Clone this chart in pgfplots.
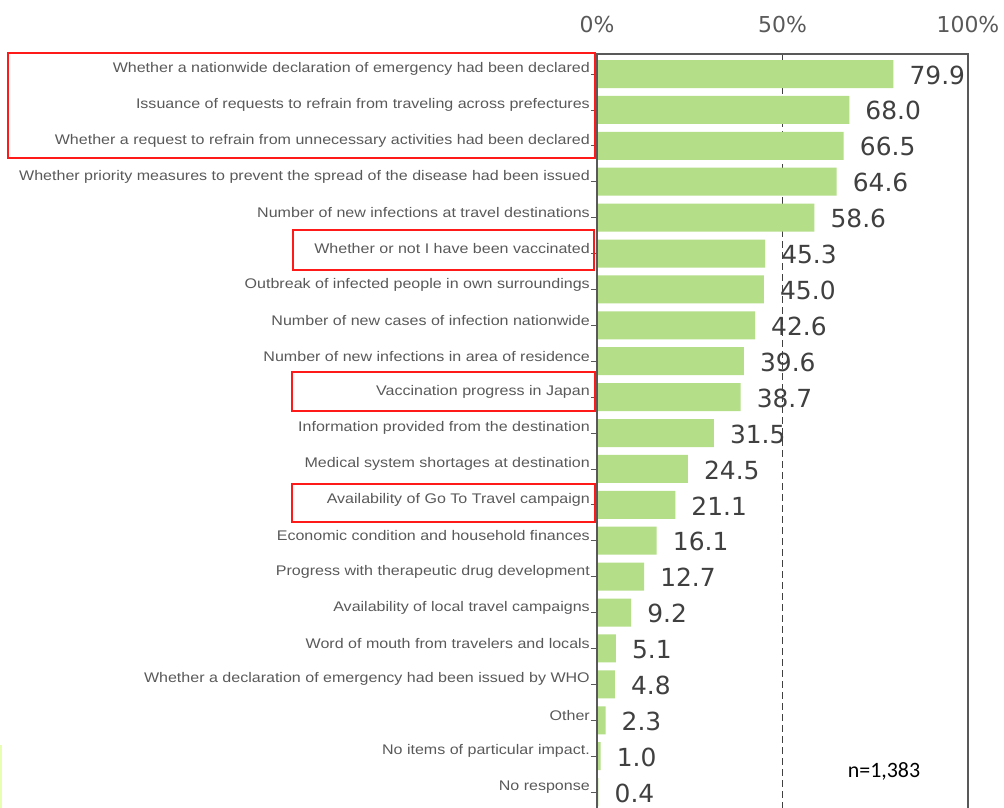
\documentclass[border=0pt]{standalone}
\usepackage{fontspec}
\setmainfont{Liberation Sans}
\newfontfamily\lab[FakeStretch=1.15]{Liberation Sans}
\newfontfamily\dv{DejaVu Sans}
\newfontfamily\cb{Carlito}
\usepackage{pgfplots}
\pgfplotsset{compat=1.18}
\definecolor{bargreen}{HTML}{B4DE88}
\definecolor{labgrey}{HTML}{595959}
\definecolor{valgrey}{HTML}{404040}
\definecolor{boxred}{HTML}{FF1A1A}
\begin{document}
\begin{tikzpicture}
\path[use as bounding box] (0,0) rectangle (1004bp,-808bp);
\clip (0,0) rectangle (1004bp,-808bp);
\begin{axis}[
  at={(597bp,-54bp)}, anchor=north west,
  scale only axis, width=371bp, height=756bp,
  xbar, bar width=0.78,
  xmin=0, xmax=100, ymin=-0.557, ymax=20.5, y dir=reverse,
  /pgf/number format/assume math mode=true,
  axis line style={draw=labgrey, line width=1.3bp},
  xtick={0,50,100}, xticklabels={0\%,50\%,100\%},
  xticklabel pos=top, xtick style={draw=none},
  xticklabel style={font=\dv\fontsize{22}{22}\selectfont, text=labgrey, yshift=12bp},
  xmajorgrids, major grid style={draw=valgrey, dashed, line width=1.3bp, dash pattern=on 7bp off 4bp},
  ytick={0,...,20}, ytick pos=left, tick align=outside, major tick length=6bp,
  ytick style={draw=labgrey, line width=0.8bp},
  yticklabel style={font=\lab\fontsize{14}{14}\selectfont, text=labgrey, inner sep=1bp, yshift=5bp},
  yticklabels={
    {Whether a nationwide declaration of emergency had been declared},
    {Issuance of requests to refrain from traveling across prefectures},
    {Whether a request to refrain from unnecessary activities had been declared},
    {Whether priority measures to prevent the spread of the disease had been issued},
    {Number of new infections at travel destinations},
    {Whether or not I have been vaccinated},
    {Outbreak of infected people in own surroundings},
    {Number of new cases of infection nationwide},
    {Number of new infections in area of residence},
    {Vaccination progress in Japan},
    {Information provided from the destination},
    {Medical system shortages at destination},
    {Availability of Go To Travel campaign},
    {Economic condition and household finances},
    {Progress with therapeutic drug development},
    {Availability of local travel campaigns},
    {Word of mouth from travelers and locals},
    {Whether a declaration of emergency had been issued by WHO},
    {Other},
    {No items of particular impact.},
    {No response}},
  nodes near coords={\pgfmathprintnumber[fixed,fixed zerofill,precision=1]{\pgfplotspointmeta}},
  point meta=x,
  every node near coord/.append style={font=\dv\fontsize{25}{25}\selectfont, text=valgrey, anchor=west, inner sep=0pt, xshift=16bp, yshift=-1bp},
]
\addplot[fill=bargreen, draw=none] coordinates {
  (79.9,0) (68.0,1) (66.5,2) (64.6,3) (58.6,4) (45.3,5) (45.0,6)
  (42.6,7) (39.6,8) (38.7,9) (31.5,10) (24.5,11) (21.1,12) (16.1,13)
  (12.7,14) (9.2,15) (5.1,16) (4.8,17) (2.3,18) (1.0,19) (0.4,20)};
\draw[labgrey, line width=2bp] (axis cs:0,-0.557) -- (axis cs:0,20.5);
\end{axis}
\draw[boxred, line width=1.5bp] (8bp,-53bp) rectangle (595bp,-158bp);
\draw[boxred, line width=1.5bp] (293bp,-230bp) rectangle (594bp,-270bp);
\draw[boxred, line width=1.5bp] (292bp,-372bp) rectangle (595bp,-411bp);
\draw[boxred, line width=1.5bp] (292bp,-484bp) rectangle (595bp,-522bp);
\node at (884bp,-771bp) {\cb\fontsize{22}{22}\selectfont n=1,383};
\fill[green!30!yellow!30] (0,-745bp) rectangle (2bp,-808bp);
\end{tikzpicture}
\end{document}
